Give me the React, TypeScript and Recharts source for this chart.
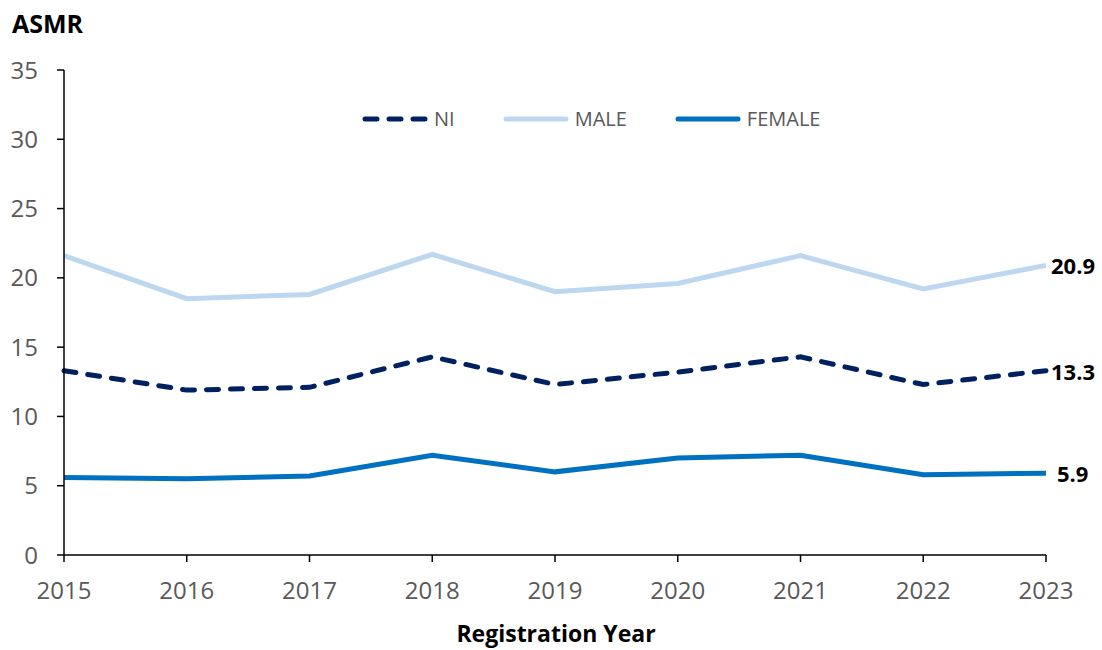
import { LineChart, Line, XAxis, YAxis, LabelList } from "recharts";

const YEARS = ["2015", "2016", "2017", "2018", "2019", "2020", "2021", "2022", "2023"];
const NI = [13.3, 11.9, 12.1, 14.3, 12.3, 13.2, 14.3, 12.3, 13.3];
const MALE = [21.6, 18.5, 18.8, 21.7, 19.0, 19.6, 21.6, 19.2, 20.9];
const FEMALE = [5.6, 5.5, 5.7, 7.2, 6.0, 7.0, 7.2, 5.8, 5.9];
const Y_TICKS = [0, 5, 10, 15, 20, 25, 30, 35];

const SERIES = [
  { key: "NI", color: "#002060", dash: "12 12" },
  { key: "MALE", color: "#BDD7EE", dash: undefined },
  { key: "FEMALE", color: "#0070C0", dash: undefined },
];

const data = YEARS.map((year, i) => ({
  year,
  NI: NI[i],
  MALE: MALE[i],
  FEMALE: FEMALE[i],
}));

const FONT = "'Open Sans', 'Liberation Sans', sans-serif";

function LegendBox() {
  return (
    <div style={{ display: "flex", alignItems: "center", fontFamily: FONT, fontSize: 20, color: "#595959" }}>
      {SERIES.map((s, i) => (
        <div key={s.key} style={{ display: "flex", alignItems: "center", marginRight: i < 2 ? 48 : 0 }}>
          <svg width={66} height={10} style={{ marginRight: 6 }}>
            <line
              x1={3}
              y1={5}
              x2={63}
              y2={5}
              stroke={s.color}
              strokeWidth={5}
              strokeLinecap="round"
              strokeDasharray={s.dash}
            />
          </svg>
          <span>{s.key}</span>
        </div>
      ))}
    </div>
  );
}

function EndLabel(props: any) {
  const { x, y, value, index } = props;
  if (index !== YEARS.length - 1) return null;
  const off = String(value).length < 4 ? 11 : 5;
  return (
    <text
      x={x + off}
      y={y}
      dominantBaseline="central"
      fontFamily={FONT}
      fontSize={22}
      fontWeight="bold"
      fill="#000"
    >
      {value}
    </text>
  );
}

export default function App() {
  return (
    <div style={{ position: "absolute", left: 0, top: 0, width: 1102, height: 650, background: "#fff" }}>
      <div
        style={{
          position: "absolute",
          left: 12,
          top: 6,
          fontFamily: FONT,
          fontWeight: "bold",
          fontSize: 25,
          color: "#000",
        }}
      >
        ASMR
      </div>
      <div
        style={{
          position: "absolute",
          left: 0,
          width: 1112,
          top: 617,
          textAlign: "center",
          fontFamily: FONT,
          fontWeight: "bold",
          fontSize: 23,
          color: "#000",
        }}
      >
        Registration Year
      </div>
      <div style={{ position: "absolute", left: 362, top: 105, zIndex: 1 }}>
        <LegendBox />
      </div>
      <LineChart width={1102} height={650} data={data} margin={{ top: 70, right: 56, bottom: 65, left: 0 }}>
        <XAxis
          dataKey="year"
          padding={{ left: 0, right: 0 }}
          interval={0}
          stroke="#000"
          strokeWidth={1.5}
          tickSize={7}
          tickMargin={20}
          tick={{ fill: "#595959", fontSize: 24, fontFamily: FONT }}
        />
        <YAxis
          width={64}
          domain={[0, 35]}
          ticks={Y_TICKS}
          interval={0}
          stroke="#000"
          strokeWidth={1.5}
          tickSize={7}
          tickMargin={19}
          tick={{ fill: "#595959", fontSize: 24, fontFamily: FONT }}
        />
        {SERIES.map((s) => (
          <Line
            key={s.key}
            dataKey={s.key}
            stroke={s.color}
            strokeWidth={5}
            strokeDasharray={s.dash}
            strokeLinecap={s.dash ? "round" : "butt"}
            dot={false}
            activeDot={false}
            isAnimationActive={false}
          >
            <LabelList dataKey={s.key} content={<EndLabel />} />
          </Line>
        ))}
      </LineChart>
    </div>
  );
}
